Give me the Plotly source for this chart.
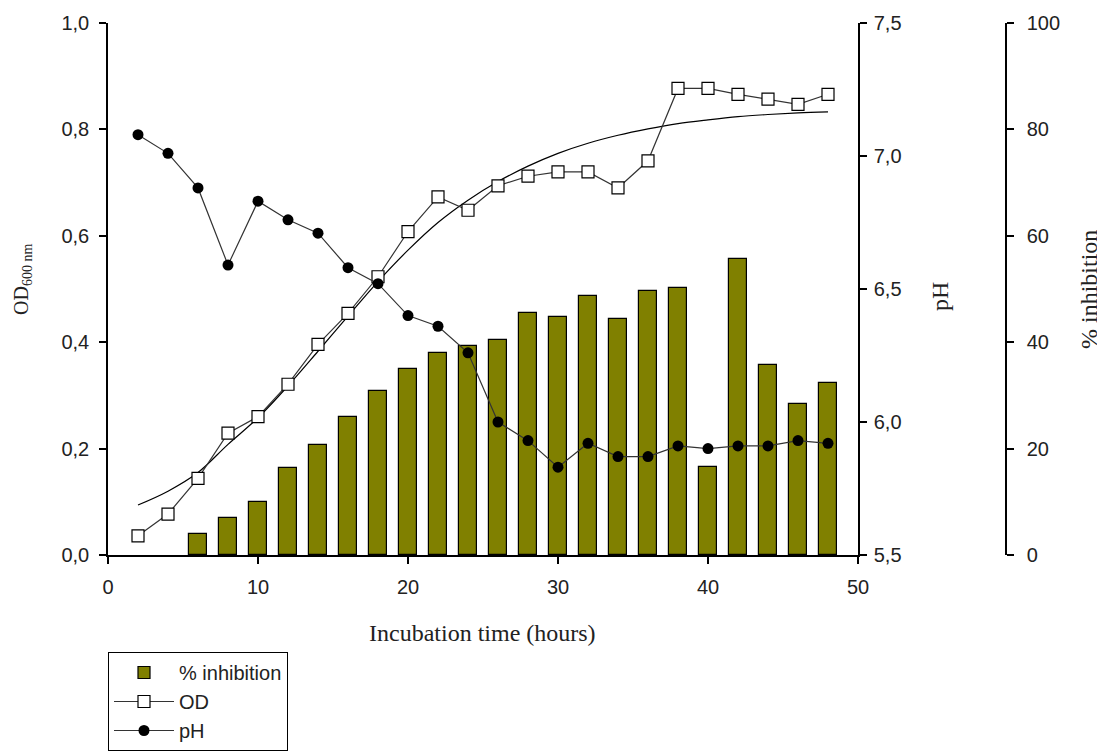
import plotly.graph_objects as go

# ---------------- data ----------------
time_h = [2, 4, 6, 8, 10, 12, 14, 16, 18, 20, 22, 24, 26, 28, 30, 32, 34, 36, 38, 40, 42, 44, 46, 48]

od = [0.036, 0.077, 0.144, 0.229, 0.260, 0.321, 0.396, 0.454, 0.523, 0.608, 0.673, 0.648,
      0.694, 0.712, 0.720, 0.720, 0.690, 0.741, 0.877, 0.877, 0.866, 0.857, 0.847, 0.866]

od_fit = [0.094, 0.120, 0.155, 0.208, 0.258, 0.318, 0.383, 0.449, 0.514, 0.573, 0.625, 0.667,
          0.702, 0.731, 0.755, 0.774, 0.789, 0.801, 0.811, 0.818, 0.824, 0.828, 0.831, 0.833]

ph = [7.08, 7.01, 6.88, 6.59, 6.83, 6.76, 6.71, 6.58, 6.52, 6.40, 6.36, 6.26,
      6.00, 5.93, 5.83, 5.92, 5.87, 5.87, 5.91, 5.90, 5.91, 5.91, 5.93, 5.92]

bar_time = [6, 8, 10, 12, 14, 16, 18, 20, 22, 24, 26, 28, 30, 32, 34, 36, 38, 40, 42, 44, 46, 48]
inhibition = [3.9, 7.0, 10.0, 16.4, 20.7, 26.0, 30.8, 34.9, 37.9, 39.2, 40.4, 45.5,
              44.7, 48.7, 44.4, 49.6, 50.1, 16.5, 55.6, 35.7, 28.4, 32.4]

x_ticks = [0, 10, 20, 30, 40, 50]
od_ticks = [0.0, 0.2, 0.4, 0.6, 0.8, 1.0]
ph_ticks = [5.5, 6.0, 6.5, 7.0, 7.5]
inh_ticks = [0, 20, 40, 60, 80, 100]

# ---------------- layout geometry (page pixels) ----------------
OFF = 8                      # page body margin around the plot div
W, H = 1105 - OFF, 756 - OFF
L, R_PAPER, T, B = 108 - OFF, 1006 - OFF, 23 - OFF, 555 - OFF
PW = R_PAPER - L
PH = B - T


def px(xp):
    return (xp - OFF - L) / PW


def py(yp):
    return (B - (yp - OFF)) / PH


OLIVE = "#808000"
TXT = "#222222"
SANS = "Liberation Sans, Arial, sans-serif"
SERIF = "Liberation Serif, Times New Roman, serif"

fig = go.Figure()

fig.add_trace(go.Bar(
    x=bar_time, y=inhibition, name="% inhibition", yaxis="y",
    width=1.2, marker=dict(color=OLIVE, line=dict(color="black", width=1.2)),
))
fig.add_trace(go.Scatter(
    x=time_h, y=od_fit, mode="lines", yaxis="y2", showlegend=False,
    line=dict(color="black", width=1.2, shape="spline", smoothing=1.0),
))
fig.add_trace(go.Scatter(
    x=time_h, y=od, name="OD", mode="lines+markers", yaxis="y2",
    line=dict(color="#333333", width=1.2),
    marker=dict(symbol="square", size=12, color="white", line=dict(color="black", width=1.2)),
))
fig.add_trace(go.Scatter(
    x=time_h, y=ph, name="pH", mode="lines+markers", yaxis="y3",
    line=dict(color="#333333", width=1.2),
    marker=dict(symbol="circle", size=11, color="black"),
))

axis_common = dict(
    showgrid=False, zeroline=False, showline=True, linecolor="black", linewidth=1.5,
    ticks="outside", ticklen=7, tickwidth=1.5, tickcolor="black",
    tickfont=dict(family=SANS, size=20, color=TXT),
)

fig.update_layout(
    width=W, height=H, autosize=False,
    margin=dict(l=L, r=W - R_PAPER, t=T, b=H - B, pad=0, autoexpand=False),
    paper_bgcolor="white", plot_bgcolor="white",
    separators=", ",
    bargap=0,
    xaxis=dict(domain=[0, (858 - OFF - L) / PW], range=[0, 50], tickvals=x_ticks,
               anchor="y2", ticklabelstandoff=6, **axis_common),
    yaxis=dict(range=[0, 100], tickvals=inh_ticks, anchor="free", position=1.0,
               side="right", ticklabelstandoff=9, **axis_common),
    yaxis2=dict(range=[0, 1], tickvals=od_ticks, tickformat=".1f", overlaying="y",
                side="left", anchor="x", ticklabelstandoff=6, **axis_common),
    yaxis3=dict(range=[5.5, 7.5], tickvals=ph_ticks, tickformat=".1f", overlaying="y",
                side="right", anchor="x", ticklabelstandoff=3, **axis_common),
    legend=dict(x=px(108), y=py(652), xanchor="left", yanchor="top",
                bordercolor="black", borderwidth=1, bgcolor="white",
                font=dict(family=SANS, size=20, color=TXT), traceorder="normal",
                itemwidth=60, tracegroupgap=0),
    showlegend=True,
)

ann = [
    dict(text="Incubation time (hours)", x=px(482), y=py(633), textangle=0,
         font=dict(family=SERIF, size=24, color=TXT)),
    dict(text="OD<sub>600 nm</sub>", x=px(22), y=py(280), textangle=-90,
         font=dict(family=SERIF, size=20, color=TXT)),
    dict(text="pH", x=px(940), y=py(297), textangle=-90,
         font=dict(family=SERIF, size=24, color=TXT)),
    dict(text="% inhibition", x=px(1089), y=py(290), textangle=-90,
         font=dict(family=SERIF, size=24, color=TXT)),
]
for a in ann:
    fig.add_annotation(xref="paper", yref="paper", xanchor="center", yanchor="middle",
                       showarrow=False, **a)

fig.write_html("out.html")
